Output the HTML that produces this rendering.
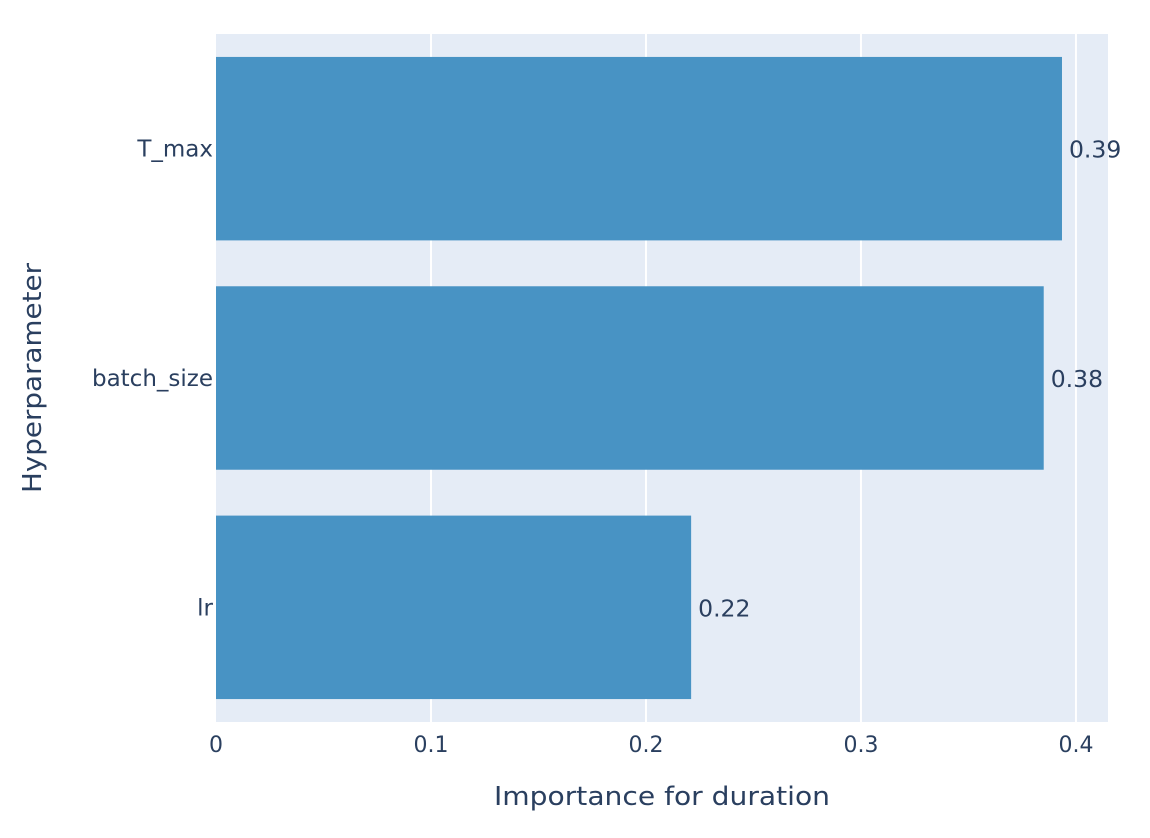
<!DOCTYPE html>
<html><head><meta charset="utf-8"><style>
body{margin:0;background:#fff;font-family:"DejaVu Sans","Liberation Sans",sans-serif;}
svg text{font-family:"DejaVu Sans","Liberation Sans",sans-serif;}
</style></head><body>
<svg id="chart" width="1150" height="834" xmlns="http://www.w3.org/2000/svg">
<rect x="0" y="0" width="1150" height="834" fill="#fff"/>
<rect x="216" y="34" width="892" height="688" fill="#e5ecf6"/>
<g id="grid"></g><g id="bars"></g><g id="labels"></g>
<text x="662" y="805" text-anchor="middle" font-size="26" fill="#2a3f5f" textLength="336" lengthAdjust="spacingAndGlyphs">Importance for duration</text>
<text transform="translate(41,378) rotate(-90)" text-anchor="middle" font-size="26" fill="#2a3f5f" textLength="230" lengthAdjust="spacingAndGlyphs">Hyperparameter</text>
</svg>
<script>
const categories=["T_max","batch_size","lr"];
const values=[0.3935,0.385,0.221];
const valueLabels=["0.39","0.38","0.22"];
const xTicks=[0,0.1,0.2,0.3,0.4];
const xTickLabels=["0","0.1","0.2","0.3","0.4"];
const NS="http://www.w3.org/2000/svg";
const x0=216,x1=1108,y0=34,y1=722,xMax=0.4149;
const xs=v=>x0+v/xMax*(x1-x0);
const band=(y1-y0)/categories.length;
const yc=i=>y0+band*(i+0.5);
function mk(tag,attrs,parent,text){const e=document.createElementNS(NS,tag);for(const k in attrs)e.setAttribute(k,attrs[k]);if(text!==undefined)e.textContent=text;document.getElementById(parent).appendChild(e);return e;}
xTicks.forEach((t,i)=>{
  if(t>0){const g=mk('line',{x1:xs(t),x2:xs(t),y1:y0,y2:y1,stroke:'#fff','stroke-width':2},'grid');
  
  }
  const l=mk('text',{x:xs(t),y:752,'text-anchor':'middle','font-size':22,fill:'#2a3f5f'},'labels',xTickLabels[i]);
  
  
});
categories.forEach((c,i)=>{
  const h=band*0.8;
  const b=mk('rect',{x:x0,y:yc(i)-h/2,width:xs(values[i])-x0,height:h,fill:'#4893c4'},'bars');
  
  
  const v=mk('text',{x:xs(values[i])+7,y:yc(i)+9,'font-size':23.5,fill:'#2a3f5f'},'labels',valueLabels[i]);
  
  
  const t=mk('text',{x:213,y:yc(i)+8,'text-anchor':'end','font-size':23,fill:'#2a3f5f'},'labels',c);
  
  
});
</script>
</body></html>
